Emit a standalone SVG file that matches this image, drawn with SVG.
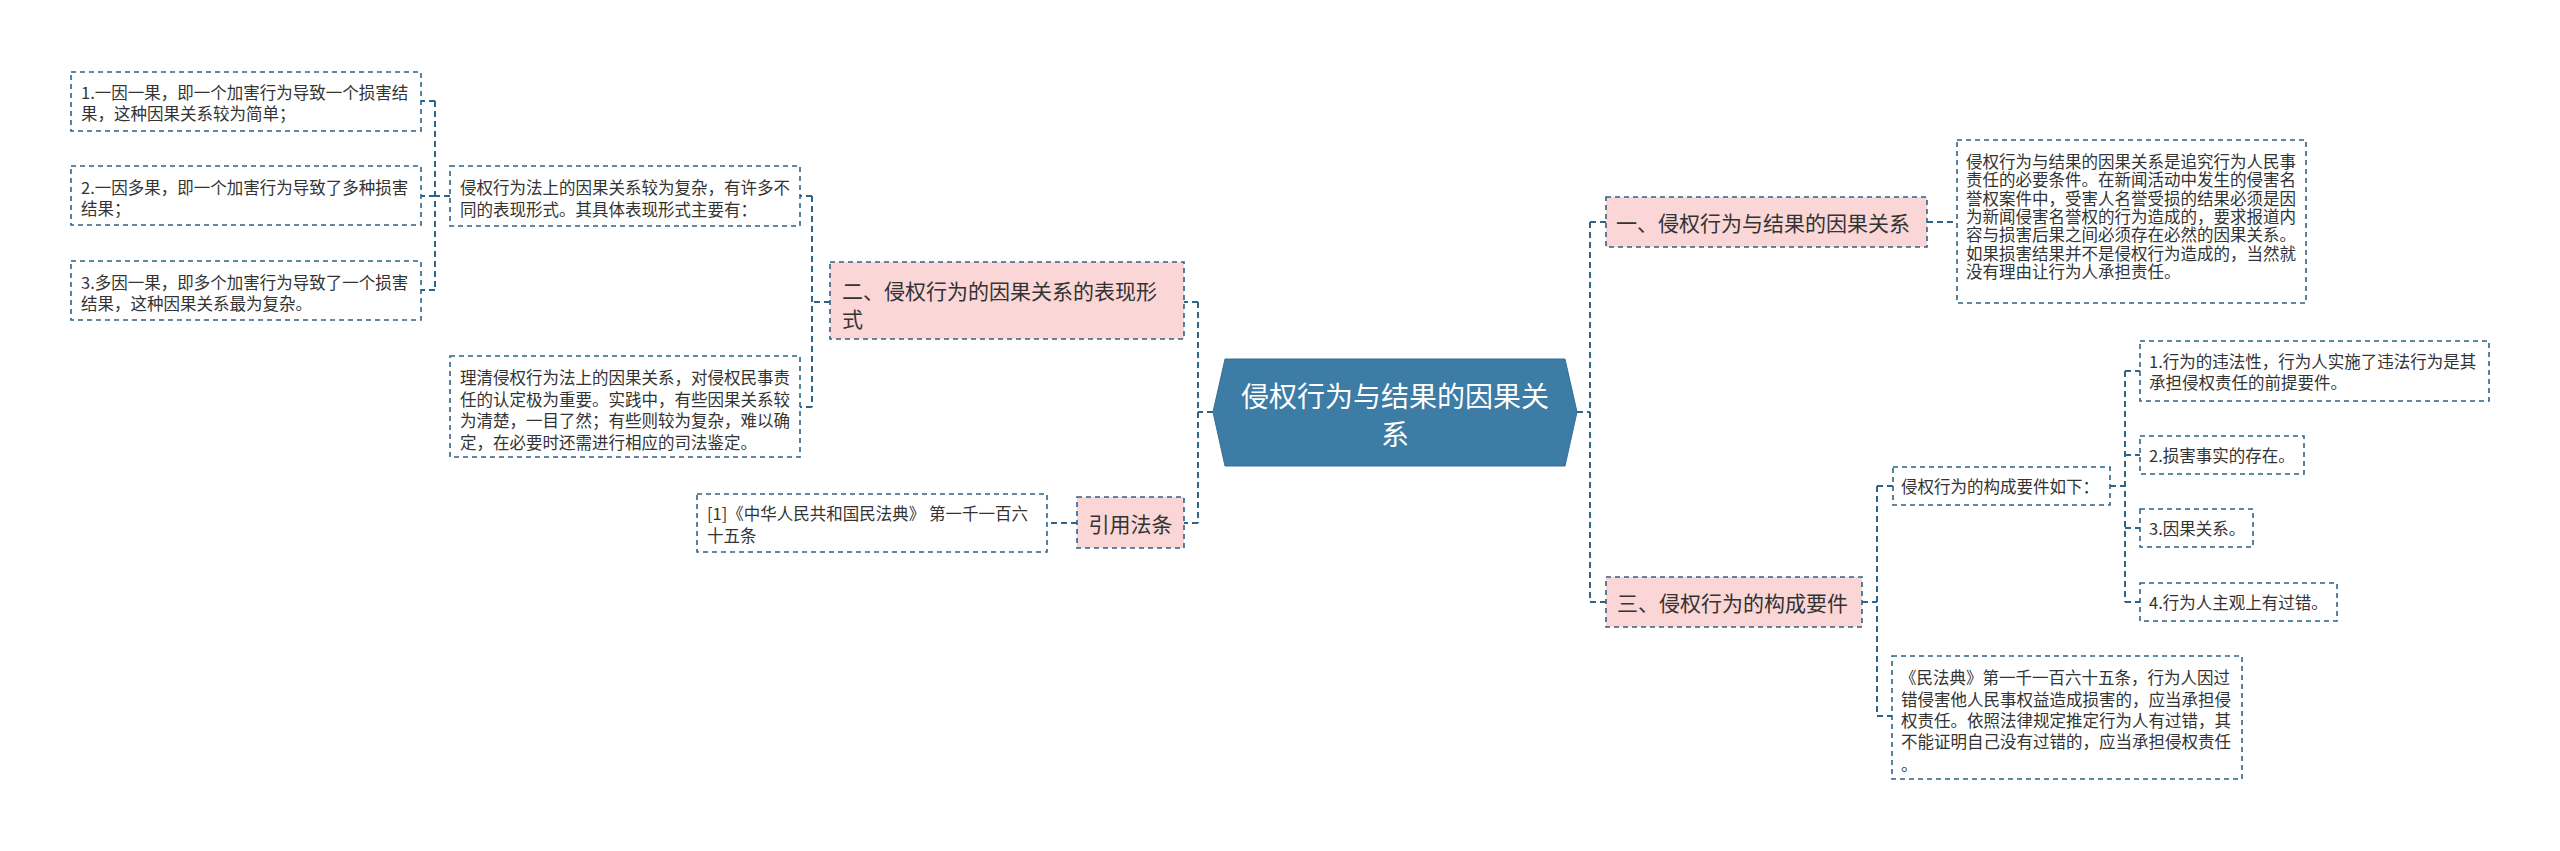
<svg xmlns="http://www.w3.org/2000/svg" width="2560" height="851" viewBox="0 0 2560 851">
<style>
.box{fill:#ffffff;stroke:#2f6385;stroke-width:1.6;stroke-dasharray:5 4}
.pink{fill:#fad7d6;stroke:#2f6385;stroke-width:1.6;stroke-dasharray:5 4}
.t{font-family:"Noto Sans CJK SC","Noto Sans",sans-serif;font-size:16.5px;fill:#333333;dominant-baseline:central}
.tm{font-family:"Noto Sans CJK SC","Noto Sans",sans-serif;font-size:21px;fill:#333333;dominant-baseline:central}
.tc{font-family:"Noto Sans CJK SC","Noto Sans",sans-serif;font-size:28px;fill:#ffffff;dominant-baseline:central;text-anchor:middle}
.ln{fill:none;stroke:#2d6488;stroke-width:2;stroke-dasharray:6 4}
</style>
<rect width="2560" height="851" fill="#ffffff"/>
<g id="connectors">
<path class="ln" d="M1213 412H1198M1198 302V523M1198 302H1184M1198 523H1184"/>
<path class="ln" d="M830 302H812M812 196V407M812 196H800M812 407H800"/>
<path class="ln" d="M450 196H435M435 101V290M435 101H421M435 196H421M435 290H421"/>
<path class="ln" d="M1077 523H1047"/>
<path class="ln" d="M1577 412H1590M1590 222V602M1590 222H1606M1590 602H1606"/>
<path class="ln" d="M1927 222H1957"/>
<path class="ln" d="M1862 602H1877M1877 486V716M1877 486H1893M1877 716H1892"/>
<path class="ln" d="M2110 486H2125M2125 371V602M2125 371H2140M2125 455H2140M2125 528H2140M2125 602H2140"/>
</g>
<g id="center">
<polygon points="1213,412 1225,359 1565,359 1577,412 1565,466 1225,466" fill="#3d7ca5" stroke="#356f96" stroke-width="1"/>
<text class="tc"><tspan x="1395" y="395">侵权行为与结果的因果关</tspan><tspan x="1395" y="433">系</tspan></text>
</g>
<g id="n2">
<rect class="pink" x="830" y="262" width="354" height="77"/>
<text class="tm"><tspan x="842" y="290">二、侵权行为的因果关系的表现形</tspan><tspan x="842" y="318">式</tspan></text>
</g>
<g id="p1">
<rect class="box" x="450" y="166" width="350" height="60"/>
<text class="t"><tspan x="460" y="187">侵权行为法上的因果关系较为复杂，有许多不</tspan><tspan x="460" y="209">同的表现形式。其具体表现形式主要有：</tspan></text>
</g>
<g id="b1">
<rect class="box" x="71" y="72" width="350" height="59"/>
<text class="t"><tspan x="81" y="92">1.一因一果，即一个加害行为导致一个损害结</tspan><tspan x="81" y="113">果，这种因果关系较为简单；</tspan></text>
</g>
<g id="b2">
<rect class="box" x="71" y="166" width="350" height="59"/>
<text class="t"><tspan x="81" y="187">2.一因多果，即一个加害行为导致了多种损害</tspan><tspan x="81" y="208">结果；</tspan></text>
</g>
<g id="b3">
<rect class="box" x="71" y="261" width="350" height="59"/>
<text class="t"><tspan x="81" y="282">3.多因一果，即多个加害行为导致了一个损害</tspan><tspan x="81" y="303">结果，这种因果关系最为复杂。</tspan></text>
</g>
<g id="p2">
<rect class="box" x="450" y="356" width="350" height="101"/>
<text class="t"><tspan x="460" y="377">理清侵权行为法上的因果关系，对侵权民事责</tspan><tspan x="460" y="399">任的认定极为重要。实践中，有些因果关系较</tspan><tspan x="460" y="420">为清楚，一目了然；有些则较为复杂，难以确</tspan><tspan x="460" y="442">定，在必要时还需进行相应的司法鉴定。</tspan></text>
</g>
<g id="nlaw">
<rect class="pink" x="1077" y="497" width="107" height="51"/>
<text class="tm" x="1130.5" y="523" text-anchor="middle">引用法条</text>
</g>
<g id="ref">
<rect class="box" x="697" y="494" width="350" height="58"/>
<text class="t"><tspan x="707" y="513">[1]《中华人民共和国民法典》 第一千一百六</tspan><tspan x="707" y="535">十五条</tspan></text>
</g>
<g id="n1">
<rect class="pink" x="1606" y="197" width="321" height="50"/>
<text class="tm" x="1616" y="222">一、侵权行为与结果的因果关系</text>
</g>
<g id="r1">
<rect class="box" x="1957" y="140" width="349" height="163"/>
<text class="t"><tspan x="1966" y="161">侵权行为与结果的因果关系是追究行为人民事</tspan><tspan x="1966" y="179.3">责任的必要条件。在新闻活动中发生的侵害名</tspan><tspan x="1966" y="197.6">誉权案件中，受害人名誉受损的结果必须是因</tspan><tspan x="1966" y="215.9">为新闻侵害名誉权的行为造成的，要求报道内</tspan><tspan x="1966" y="234.2">容与损害后果之间必须存在必然的因果关系。</tspan><tspan x="1966" y="252.5">如果损害结果并不是侵权行为造成的，当然就</tspan><tspan x="1966" y="270.8">没有理由让行为人承担责任。</tspan></text>
</g>
<g id="n3">
<rect class="pink" x="1606" y="577" width="256" height="50"/>
<text class="tm" x="1617" y="602">三、侵权行为的构成要件</text>
</g>
<g id="c">
<rect class="box" x="1893" y="467" width="217" height="38"/>
<text class="t" x="1901" y="486">侵权行为的构成要件如下：</text>
</g>
<g id="i1">
<rect class="box" x="2140" y="341" width="349" height="60"/>
<text class="t"><tspan x="2149" y="361">1.行为的违法性，行为人实施了违法行为是其</tspan><tspan x="2149" y="382">承担侵权责任的前提要件。</tspan></text>
</g>
<g id="i2">
<rect class="box" x="2140" y="436" width="164" height="38"/>
<text class="t" x="2149" y="455">2.损害事实的存在。</text>
</g>
<g id="i3">
<rect class="box" x="2140" y="509" width="113" height="38"/>
<text class="t" x="2149" y="528">3.因果关系。</text>
</g>
<g id="i4">
<rect class="box" x="2140" y="583" width="197" height="38"/>
<text class="t" x="2149" y="602">4.行为人主观上有过错。</text>
</g>
<g id="law">
<rect class="box" x="1892" y="656" width="350" height="123"/>
<text class="t"><tspan x="1900" y="677">《民法典》第一千一百六十五条，行为人因过</tspan><tspan x="1901" y="699">错侵害他人民事权益造成损害的，应当承担侵</tspan><tspan x="1901" y="720">权责任。依照法律规定推定行为人有过错，其</tspan><tspan x="1901" y="741">不能证明自己没有过错的，应当承担侵权责任</tspan><tspan x="1901" y="764">。</tspan></text>
</g>
</svg>
